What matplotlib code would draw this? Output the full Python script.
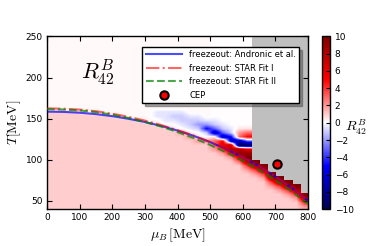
import numpy as np
import pandas as pd
import matplotlib
matplotlib.use('Agg')
import matplotlib.pyplot as plt
from matplotlib.colors import ListedColormap

plt.rcParams['mathtext.fontset'] = 'cm'
plt.rcParams['font.family'] = ['DejaVu Sans']

# ---------------- data ----------------
mu_fo = [0, 50, 100, 150, 200, 250, 300, 350, 400, 450, 500, 550, 600, 650, 700, 750, 800]
T_andronic = [158.5, 158.2, 157.2, 155.5, 153.0, 149.8, 145.9, 141.1, 135.5, 129.0,
              121.4, 112.8, 103.0, 92.0, 79.6, 65.6, 50.0]
T_star1 = [162.5, 162.1, 161.0, 159.0, 156.0, 152.2, 147.6, 142.2, 136.0, 129.2,
           121.6, 112.8, 103.0, 92.0, 79.6, 65.6, 50.0]
T_star2 = [161.5, 161.1, 160.0, 157.9, 154.8, 150.8, 146.0, 140.3, 133.7, 126.3,
           118.0, 108.8, 98.6, 87.4, 75.0, 61.3, 46.2]
cep_mu = [705]
cep_T = [95]

legend_labels = ['freezeout: Andronic et al.', 'freezeout: STAR Fit I',
                 'freezeout: STAR Fit II', 'CEP']

# heat map of R42^B: 32 columns (mu_B 0..800, 25 MeV) x 42 rows (T 250..40, 5 MeV)
mu_range = [0, 800]
T_range = [40, 250]
code_values = {'0': 0.0, '.': 0.15, ',': 0.5, '1': 1.0, '2': 2.0, '3': 3.0, '4': 4.0,
               '5': 5.0, '6': 6.0, '7': 7.0, '8': 8.0, '9': 9.0, 'X': 10.0,
               'a': -0.5, 'b': -1.0, 'c': -2.0, 'd': -3.0, 'e': -5.0, 'f': -7.0,
               'h': -10.0, 'g': np.nan}
r42_rows = [
    "...................." "00000ggggggg",  # 245-250
    "...................." "00000ggggggg",
    "...................." "00000ggggggg",
    "...................." "00000ggggggg",
    "...................." "00000ggggggg",
    "...................." "00000ggggggg",  # 220-225
    "...................." "00000ggggggg",
    "...................." "00000ggggggg",
    "...................." "00000ggggggg",
    "...................." "00000ggggggg",
    "...................." "00000ggggggg",  # 195-200
    "...................." "00000ggggggg",
    "...................." "00000ggggggg",
    "...................." "00000ggggggg",
    "...................." "00000ggggggg",
    "...................." "00000ggggggg",  # 170-175
    "...................." "00000ggggggg",
    "...................." "00000ggggggg",
    "1111,,.......aaaa..." "00000ggggggg",  # 155-160
    "11111111,....aabbaa." "00000ggggggg",
    "11111111111,..aabbba" "a0000ggggggg",  # 145-150
    "1111111111111,00abcc" "ba000ggggggg",
    "111111111111111,0abe" "dba,,ggggggg",  # 135-140
    "11111111111111112,0b" "fdb23ggggggg",
    "111111111111111112,0" ",fe35ggggggg",  # 125-130
    "11111111111111111122" "35ffdggggggg",
    "11111111111111111111" "367hhggggggg",  # 115-120
    "11111111111111111111" "24886ggggggg",
    "11111111111111111111" "12599ggggggg",  # 105-110
    "11111111111111111111" "1126Xggggggg",
    "11111111111111111111" "11138Xgggggg",  # 95-100
    "11111111111111111111" "111148Xggggg",
    "11111111111111111111" "1111248ggggg",  # 85-90
    "11111111111111111111" "1111124Xgggg",
    "11111111111111111111" "11111128Xggg",  # 75-80
    "11111111111111111111" "111111148Xgg",
    "11111111111111111111" "1111111248Xg",  # 65-70
    "11111111111111111111" "11111111248g",
    "11111111111111111111" "11111111124X",  # 55-60
    "11111111111111111111" "111111111128",
    "11111111111111111111" "111111111114",  # 45-50
    "11111111111111111111" "111111111112",
]

# ---------------- figure ----------------
fig = plt.figure(figsize=(3.73, 2.46), dpi=100)
ax = fig.add_axes([0.126, 0.150, 0.700, 0.702])

grid = np.array([[code_values[ch] for ch in row] for row in r42_rows], dtype=float)
gray = np.isnan(grid)
filled = pd.DataFrame(grid).ffill(axis=1).fillna(10.0).values
extent = [mu_range[0], mu_range[1], T_range[0], T_range[1]]
im = ax.imshow(filled, extent=extent, origin='upper', aspect='auto', cmap='seismic',
               vmin=-10, vmax=10, interpolation='bilinear', zorder=0)
gray_layer = np.ma.masked_where(~gray, np.ones_like(grid))
ax.imshow(gray_layer, extent=extent, origin='upper', aspect='auto',
          cmap=ListedColormap(['#bfbfbf']), vmin=0, vmax=2, interpolation='nearest', zorder=1)

ax.plot(mu_fo, T_andronic, color='b', alpha=0.7, lw=1.5, label=legend_labels[0], zorder=3)
ax.plot(mu_fo, T_star1, color='r', ls='-.', alpha=0.6, lw=1.5, label=legend_labels[1], zorder=3)
ax.plot(mu_fo, T_star2, color='g', ls='--', alpha=0.7, lw=1.5, label=legend_labels[2], zorder=3)
ax.plot(cep_mu, cep_T, 'o', ls='none', mfc='r', mec='k', mew=1.5, ms=6,
        label=legend_labels[3], zorder=4)

ax.set_xlim(mu_range)
ax.set_ylim(T_range)
ax.set_xticks(range(0, 801, 100))
ax.set_yticks(range(50, 251, 50))
ax.tick_params(direction='in', top=True, right=True, length=3.5, width=0.8, labelsize=6.5, pad=3)
for s in ax.spines.values():
    s.set_linewidth(1.0)

ax.set_xlabel(r'$\mu_B\,[\mathrm{MeV}]$', fontsize=10, labelpad=3)
ax.set_ylabel(r'$T[\mathrm{MeV}]$', fontsize=10, labelpad=2)
ax.text(105, 207, r'$R_{42}^B$', fontsize=16, ha='left', va='center', zorder=5)

leg = ax.legend(loc='upper right', bbox_to_anchor=(0.966, 0.94), borderaxespad=0,
                fontsize=6, handlelength=4.4, handletextpad=0.8, labelspacing=0.55,
                numpoints=1, shadow=True, fancybox=False, framealpha=1)
leg.get_frame().set_edgecolor('k')
leg.get_frame().set_linewidth(1.0)

cax = fig.add_axes([0.863, 0.150, 0.0215, 0.702])
cb = fig.colorbar(im, cax=cax, ticks=range(-10, 11, 2))
cb.ax.tick_params(labelsize=6.5, length=3, direction='in')
cb.outline.set_linewidth(1.0)
fig.text(0.955, 0.484, r'$R_{42}^B$', fontsize=10, ha='center', va='center')

fig.savefig('out.png', dpi=100)
